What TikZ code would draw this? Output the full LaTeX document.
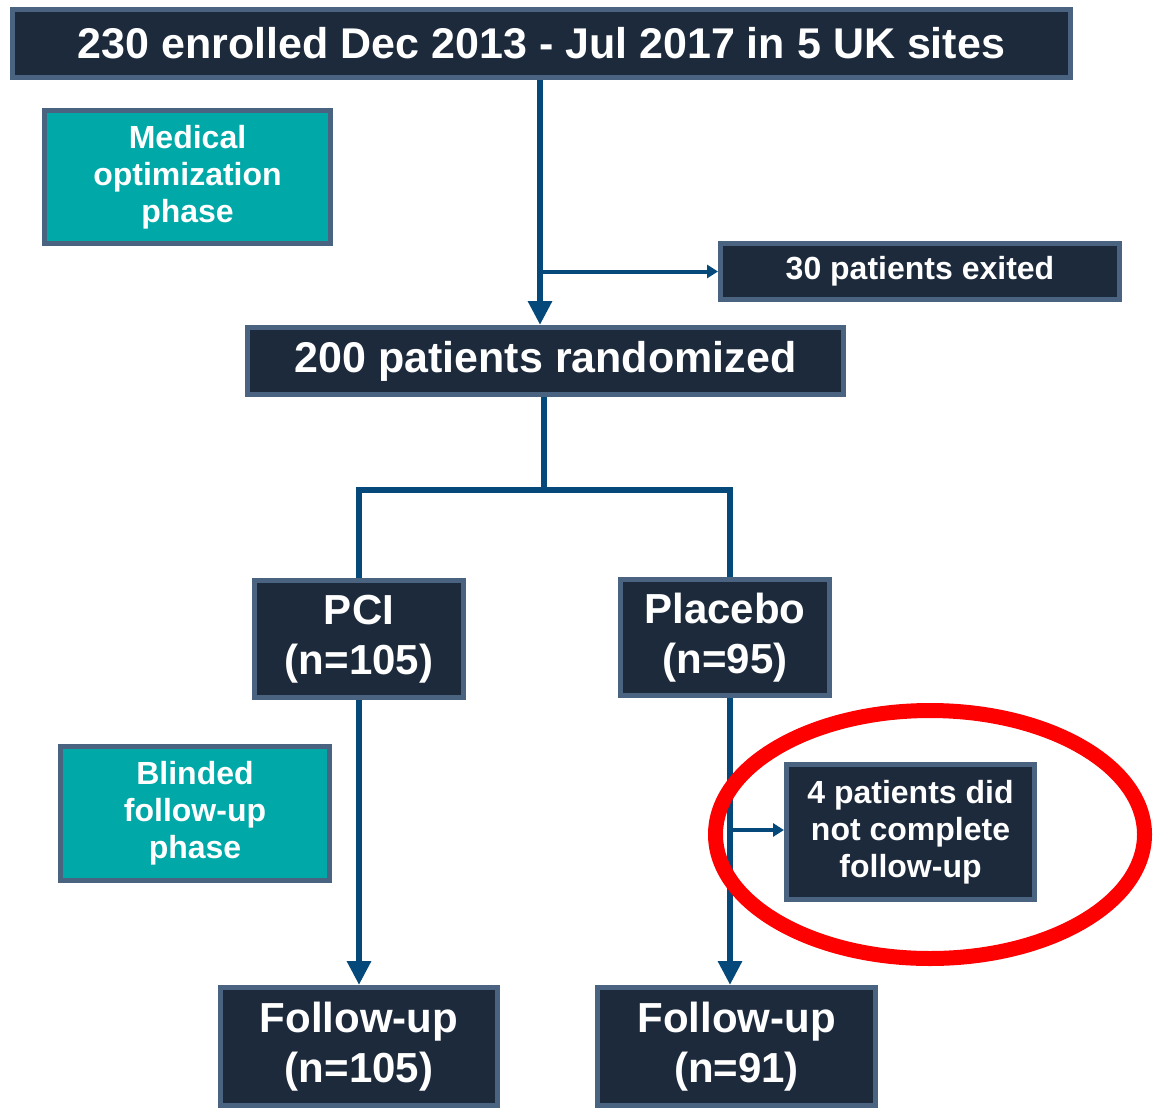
\documentclass[tikz,border=0pt]{standalone}
\usepackage{fontspec}
\setmainfont{Liberation Sans}
\usetikzlibrary{arrows.meta}
\definecolor{boxfill}{HTML}{1C2A3C}
\definecolor{boxedge}{HTML}{4A6380}
\definecolor{flowblue}{HTML}{05497A}
\definecolor{phaseteal}{HTML}{00A8A8}
\definecolor{ringred}{HTML}{FF0000}
\newcommand{\bigtext}{\fontsize{42}{50}\selectfont\bfseries}
\newcommand{\midtext}{\fontsize{32}{37}\selectfont\bfseries}
\tikzset{
  darkbox/.style={draw=boxedge, fill=boxfill, line width=5pt, text=white,
    align=center, inner sep=0pt},
  phasebox/.style={darkbox, fill=phaseteal},
  flow/.style={draw=flowblue, line width=6pt, line join=miter},
  sideflow/.style={draw=flowblue, line width=4pt},
  bigtip/.style={-{Triangle[length=24pt,width=23pt]}},
  smalltip/.style={-{Triangle[length=11pt,width=13pt]}},
}
\begin{document}
\begin{tikzpicture}[x=1pt, y=-1pt]
\useasboundingbox (0,0) rectangle (1153,1110);

% boxes
\node[darkbox, minimum width=1058pt, minimum height=68pt, font=\fontsize{43}{50}\selectfont\bfseries]
  (top) at (541.5,43.5) {230 enrolled Dec 2013 - Jul 2017 in 5 UK sites};
\node[phasebox, minimum width=286pt, minimum height=133pt, font=\midtext]
  (medopt) at (187.5,177) {Medical\\optimization\\phase};
\node[darkbox, minimum width=399pt, minimum height=56pt, font=\midtext]
  (exited) at (920,271.5) {30 patients exited};
\node[darkbox, minimum width=596pt, minimum height=67pt, font=\fontsize{43}{50}\selectfont\bfseries]
  (rand) at (545.5,361) {200 patients randomized};
\node[darkbox, minimum width=209pt, minimum height=117pt, font=\bigtext]
  (pci) at (359,639) {PCI\\(n=105)};
\node[darkbox, minimum width=209pt, minimum height=116pt, font=\bigtext]
  (placebo) at (725,637.5) {Placebo\\(n=95)};
\node[phasebox, minimum width=269pt, minimum height=134pt, font=\midtext]
  (blinded) at (195,813.5) {Blinded\\follow-up\\phase};
\node[darkbox, minimum width=248pt, minimum height=135pt, font=\midtext]
  (lost) at (910.5,832) {4 patients did\\not complete\\follow-up};
\node[darkbox, minimum width=277pt, minimum height=118pt, font=\bigtext]
  (fuL) at (359,1046.5) {Follow-up\\(n=105)};
\node[darkbox, minimum width=278pt, minimum height=118pt, font=\bigtext]
  (fuR) at (736.5,1046.5) {Follow-up\\(n=91)};

% junction points on the trunk lines
\coordinate (split) at ([xshift=-1.5pt]rand.south |- 0,490);
\coordinate (trunk) at ([xshift=-1.5pt]top.south);
\coordinate (ptrunk) at ([xshift=5pt]placebo.south);

% enrolment to randomisation, with the exit branch
\draw[flow, bigtip] (trunk) -- (trunk |- rand.north);
\draw[sideflow, smalltip] (trunk |- exited.west) -- (exited.west);

% randomisation split into the two arms
\draw[flow] (rand.south -| split) -- (split);
\draw[flow] (pci.north) |- (split) -| (ptrunk |- placebo.north);

% arms to follow-up
\draw[flow, bigtip] (pci.south) -- (pci.south |- fuL.north);
\draw[flow, bigtip] (ptrunk) -- (ptrunk |- fuR.north);
\draw[sideflow, smalltip] (ptrunk |- 0,830) -- (lost.west |- 0,830);

% highlight ring
\draw[ringred, line width=15pt] (930,834.5) ellipse [x radius=214.5, y radius=124];
\end{tikzpicture}
\end{document}
